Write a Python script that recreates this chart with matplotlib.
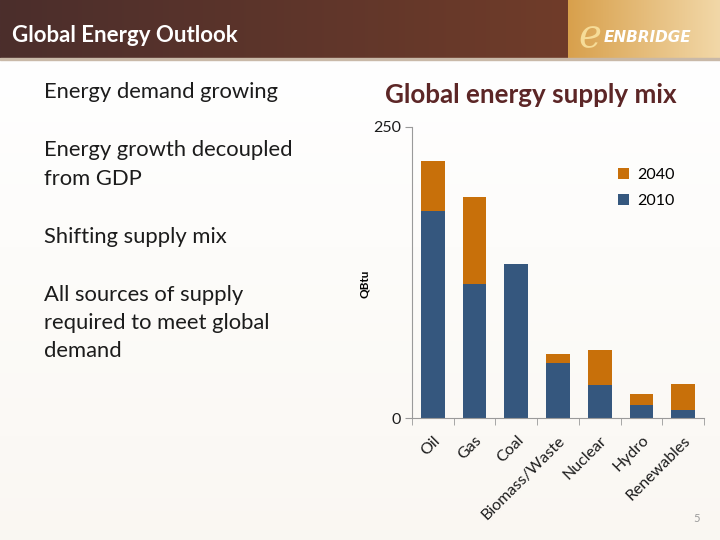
import numpy as np
import matplotlib.pyplot as plt
from matplotlib.patches import Rectangle

plt.rcParams['font.family'] = ['Lato', 'DejaVu Sans']

sources = ['Oil', 'Gas', 'Coal', 'Biomass/Waste', 'Nuclear', 'Hydro', 'Renewables']
supply_2010 = [177.7, 114.7, 132.4, 47.2, 28.3, 11.2, 6.5]
supply_2040 = [220.6, 189.7, 132.4, 54.6, 58.6, 20.3, 29.4]

bullet_lines = ['Energy demand growing',
                'Energy growth decoupled', 'from GDP',
                'Shifting supply mix',
                'All sources of supply', 'required to meet global', 'demand']
line_y = [92, 150, 179, 237, 295, 323, 351]

blue = '#35577e'
orange = '#c8700a'

fig = plt.figure(figsize=(7.2, 5.4), dpi=100)

# slide background + header bar
bg = fig.add_axes([0, 0, 1, 1], zorder=-10)
bg.set_xlim(0, 720)
bg.set_ylim(540, 0)
bg.axis('off')
page = np.linspace(0, 1, 256).reshape(-1, 1)
bg.imshow(np.dstack([1 - 0.02 * page, 1 - 0.03 * page, 1 - 0.05 * page]),
          extent=[0, 720, 540, 58], aspect='auto')
grad = np.linspace(0, 1, 256).reshape(1, -1)
c0 = np.array([0x4b, 0x2e, 0x2c]) / 255
c1 = np.array([0x70, 0x3c, 0x29]) / 255
bar_img = c0[None, None, :] * (1 - grad[..., None]) + c1[None, None, :] * grad[..., None]
bg.imshow(bar_img, extent=[0, 568, 58, 0], aspect='auto')
g0 = np.array([0xd8, 0xa0, 0x4c]) / 255
g1 = np.array([0xf2, 0xd8, 0xa8]) / 255
gold_img = g0[None, None, :] * (1 - grad[..., None]) + g1[None, None, :] * grad[..., None]
bg.imshow(gold_img, extent=[568, 720, 58, 0], aspect='auto')
bg.add_patch(Rectangle((0, 58), 720, 1.5, color='#c9b9a8'))

bg.text(12, 35, 'Global Energy Outlook', color='white',
        fontsize=16, fontweight='bold', va='center')
bg.text(590, 36, 'ℯ', color='#f6dc98', fontsize=28, style='italic', va='center', ha='center')
bg.text(604, 37, 'ENBRIDGE', color='white', fontsize=11, fontweight='bold',
        style='italic', va='center', family='DejaVu Sans')
bg.text(700, 519, '5', color='#9a9a9a', fontsize=8, ha='right', va='center')

for txt, y in zip(bullet_lines, line_y):
    bg.text(44, y, txt, color='#1c1c1c', fontsize=15.8, va='center')

bg.text(531, 95, 'Global energy supply mix', color='#5c2626', fontsize=18.7,
        fontweight='bold', ha='center', va='center')

# chart
ax = fig.add_axes([412 / 720, 1 - 418 / 540, 292 / 720, 291 / 540])
ax.patch.set_alpha(0)
x = np.arange(len(sources))
extra = np.array(supply_2040) - np.array(supply_2010)
ax.bar(x, supply_2010, width=0.57, color=blue, label='2010', zorder=2)
ax.bar(x, extra, bottom=supply_2010, width=0.57, color=orange, label='2040', zorder=2)

ax.set_xlim(-0.5, len(sources) - 0.5)
ax.set_ylim(0, 250)
ax.set_yticks([0, 250])
ax.set_yticklabels(['0', '250'], fontsize=11.5, color='#1c1c1c')
ax.set_xticks(x)
ax.set_xticklabels(sources, rotation=45, ha='right', va='top',
                   rotation_mode='anchor', fontsize=11.5, color='#1c1c1c')
ax.tick_params(axis='x', which='major', length=0, pad=11)
ax.set_xticks(np.arange(-0.5, len(sources)), minor=True)
ax.tick_params(axis='x', which='minor', length=5, color='#9a9a9a')
ax.tick_params(axis='y', length=5, color='#9a9a9a', pad=3)
for s in ['top', 'right']:
    ax.spines[s].set_visible(False)
for s in ['left', 'bottom']:
    ax.spines[s].set_color('#9a9a9a')
ax.set_ylabel('QBtu', fontsize=8.5, fontweight='bold', va='center')
ax.yaxis.set_label_coords(-0.164, 0.46)

handles, labels = ax.get_legend_handles_labels()
ax.legend(handles[::-1], labels[::-1], loc='upper left', bbox_to_anchor=(0.655, 0.91),
          frameon=False, fontsize=11.5, handlelength=0.7, handleheight=0.7,
          handletextpad=0.5, labelspacing=0.75)

fig.savefig('out.png', dpi=100)
